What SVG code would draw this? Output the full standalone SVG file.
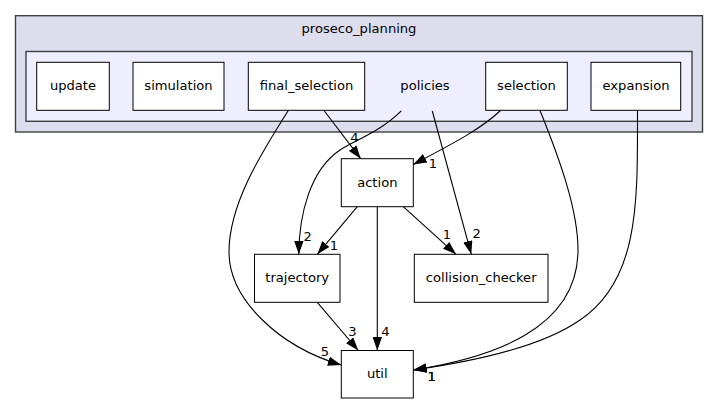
<svg xmlns="http://www.w3.org/2000/svg" width="719" height="404" viewBox="0 0 719 404">
<style>
  text { font-family: "DejaVu Sans", "Liberation Sans", sans-serif; font-size: 13.1px; fill: #000; text-anchor: middle; }
  .node rect { fill: #ffffff; stroke: #000; stroke-width: 1; }
  .outer { fill: #ddddee; stroke: #404040; stroke-width: 1.4; }
  .inner { fill: #eeeeff; stroke: #404040; stroke-width: 1.4; }
  .edge path { fill: none; stroke: #000; stroke-width: 1.1; marker-end: url(#arr); }
</style>
<defs>
  <marker id="arr" viewBox="0 0 13.4 9.4" refX="13.4" refY="4.7" markerWidth="13.4" markerHeight="9.4" markerUnits="userSpaceOnUse" orient="auto">
    <path d="M0,0 L13.4,4.7 L0,9.4 z" fill="#000"/>
  </marker>
</defs>
<rect width="719" height="404" fill="#ffffff"/>
<g id="cluster_proseco_planning">
  <rect class="outer" x="15.5" y="15.7" width="687" height="116.3"/>
  <text x="359" y="32.7">proseco_planning</text>
</g>
<g id="cluster_policies">
  <rect class="inner" x="26" y="51.5" width="666" height="69.8"/>
  <text x="425" y="90">policies</text>
</g>
<g id="node_update" class="node">
  <rect x="36.7" y="62.3" width="72.6" height="48"/>
  <text x="73" y="90">update</text>
</g>
<g id="node_simulation" class="node">
  <rect x="133" y="62.3" width="91" height="48"/>
  <text x="178.5" y="90">simulation</text>
</g>
<g id="node_final_selection" class="node">
  <rect x="248.3" y="62.3" width="116.4" height="48"/>
  <text x="306.5" y="90">final_selection</text>
</g>
<g id="node_selection" class="node">
  <rect x="485.7" y="62.3" width="81.6" height="48"/>
  <text x="526.5" y="90">selection</text>
</g>
<g id="node_expansion" class="node">
  <rect x="591" y="62.3" width="89.7" height="48"/>
  <text x="636" y="90">expansion</text>
</g>
<g id="node_action" class="node">
  <rect x="341.3" y="158.7" width="72" height="48"/>
  <text x="377.3" y="186.5">action</text>
</g>
<g id="node_trajectory" class="node">
  <rect x="254.5" y="254.3" width="85.5" height="48"/>
  <text x="297.2" y="282">trajectory</text>
</g>
<g id="node_collision_checker" class="node">
  <rect x="414.3" y="254.3" width="133.7" height="48"/>
  <text x="481.2" y="282">collision_checker</text>
</g>
<g id="node_util" class="node">
  <rect x="341.3" y="350.5" width="72" height="47.5"/>
  <text x="377.3" y="378.3">util</text>
</g>
<g id="connectors" class="edge">
  <path d="M324,110.5 L360.7,158.7"/>
  <text x="354.3" y="142">4</text>
  <path d="M288.3,110.5 C260,155 229,205 229,252 C229,300 280,347 341.3,365"/>
  <text x="325" y="355.7">5</text>
  <path d="M401.3,110.8 C380,132 355,140 340,150 C310,170 299,215 298.8,254.3"/>
  <text x="307.7" y="241">2</text>
  <path d="M432.3,111 L471.3,254.3"/>
  <text x="476.7" y="238.3">2</text>
  <path d="M500.5,110.5 C480,130 450,145 413.3,164.5"/>
  <text x="433" y="168.3">1</text>
  <path d="M540,110.5 C560,160 578,210 578,250 C578,330 490,358 413.3,370"/>
  <path d="M637.5,110.5 C637.5,200 640,280 580,320 C540,348 470,362 413.3,370"/>
  <text x="431.7" y="380.7">1</text>
  <text x="431.7" y="380.7">1</text>
  <path d="M357.3,206.7 L317.3,254.3"/>
  <text x="334" y="250">1</text>
  <path d="M403.3,206.7 L456,254.3"/>
  <text x="447" y="239">1</text>
  <path d="M377.3,206.7 L377.3,350.5"/>
  <text x="385.3" y="336.3">4</text>
  <path d="M317.3,302.3 L358.3,350.5"/>
  <text x="352.3" y="335.7">3</text>
</g>
</svg>
